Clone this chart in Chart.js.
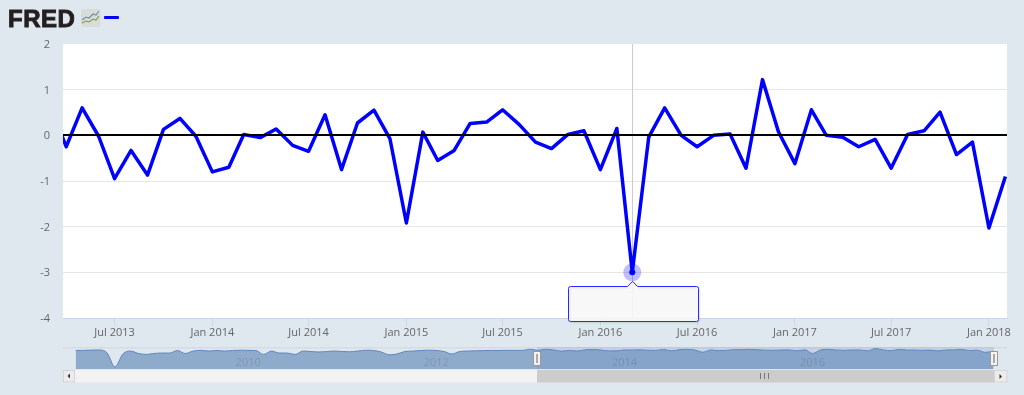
<!DOCTYPE html>
<html>
<head>
<meta charset="utf-8">
<title>FRED chart</title>
<script src="https://cdn.jsdelivr.net/npm/chart.js@4"></script>
<style>
html,body{margin:0;padding:0;width:1024px;height:395px;overflow:hidden;background:#dfe7ef;}
canvas{position:absolute;left:0;top:0;}
#logo{position:absolute;left:8px;top:5px;font:bold 24px/28px "Liberation Sans",Arial,sans-serif;color:#231f20;letter-spacing:.5px;-webkit-text-stroke:.9px #231f20;}
#icon{position:absolute;left:81px;top:9px;}
#key{position:absolute;left:104px;top:16px;width:15px;height:3px;background:#0000ff;border-radius:1px;}
</style>
</head>
<body>
<canvas id="main" width="1024" height="395"></canvas>
<canvas id="nav" width="1024" height="395"></canvas>
<div id="logo">FRED</div>
<svg id="icon" width="20" height="19" viewBox="0 0 20 19">
  <rect x="0" y="0" width="19.5" height="18" rx="2" fill="#d9dcd8"/>
  <polyline points="1,11 5,8 8,9 12,5 15,6 18,2" fill="none" stroke="#6f8aa8" stroke-width="1.1"/>
  <polyline points="1,14 5,12 8,13 12,10 15,11 18,7" fill="none" stroke="#74a04f" stroke-width="1.1"/>
</svg>
<div id="key"></div>
<script>
const months = ["2013-03","2013-04","2013-05","2013-06","2013-07","2013-08","2013-09","2013-10","2013-11","2013-12",
"2014-01","2014-02","2014-03","2014-04","2014-05","2014-06","2014-07","2014-08","2014-09","2014-10","2014-11","2014-12",
"2015-01","2015-02","2015-03","2015-04","2015-05","2015-06","2015-07","2015-08","2015-09","2015-10","2015-11","2015-12",
"2016-01","2016-02","2016-03","2016-04","2016-05","2016-06","2016-07","2016-08","2016-09","2016-10","2016-11","2016-12",
"2017-01","2017-02","2017-03","2017-04","2017-05","2017-06","2017-07","2017-08","2017-09","2017-10","2017-11","2017-12",
"2018-01","2018-02"];
const values = [0.7,-0.25,0.6,-0.02,-0.95,-0.33,-0.87,0.13,0.37,-0.02,
-0.8,-0.7,0.02,-0.05,0.14,-0.22,-0.35,0.45,-0.75,0.27,0.55,-0.07,
-1.92,0.07,-0.55,-0.33,0.26,0.29,0.56,0.24,-0.15,-0.29,0.02,0.1,
-0.75,0.15,-3.0,-0.04,0.6,0.0,-0.25,0.0,0.03,-0.72,1.22,0.08,
-0.62,0.56,0.0,-0.04,-0.25,-0.09,-0.72,0.02,0.1,0.51,-0.42,-0.15,
-2.03,-0.9];
const xTickMonths = ["2013-07","2014-01","2014-07","2015-01","2015-07","2016-01","2016-07","2017-01","2017-07","2018-01"];
const xTickLabels = ["Jul 2013","Jan 2014","Jul 2014","Jan 2015","Jul 2015","Jan 2016","Jul 2016","Jan 2017","Jul 2017","Jan 2018"];
const yTicks = [-4,-3,-2,-1,0,1,2];
const highlightMonth = "2016-03";

const navEarlyMonths = ["2008-05","2008-06","2008-07","2008-08","2008-09","2008-10","2008-11","2008-12",
"2009-01","2009-02","2009-03","2009-04","2009-05","2009-06","2009-07","2009-08","2009-09","2009-10","2009-11","2009-12",
"2010-01","2010-02","2010-03","2010-04","2010-05","2010-06","2010-07","2010-08","2010-09","2010-10","2010-11","2010-12",
"2011-01","2011-02","2011-03","2011-04","2011-05","2011-06","2011-07","2011-08","2011-09","2011-10","2011-11","2011-12",
"2012-01","2012-02","2012-03","2012-04","2012-05","2012-06","2012-07","2012-08","2012-09","2012-10","2012-11","2012-12",
"2013-01","2013-02"];
const navEarlyValues = [-0.4,-0.3,-0.1,0,-2.6,-14.5,-3.4,-0.9,-3,-3.8,-3,-2.6,-2.6,-0.4,-3,-0.9,-0.3,-0.9,-0.4,-0.9,
-0.4,-0.2,-0.3,-0.4,-3.8,-0.9,-2.6,-2.6,-3.8,-0.9,-1.3,-1.7,-1.3,-0.9,-1.3,-1.5,-0.9,-0.2,-0.4,-1.7,
-4.1,-3.4,-1.3,-0.9,-0.4,-0.2,-0.4,-1.3,-3.4,-1.3,-0.9,-0.7,-0.5,-0.4,-0.4,-0.3,-0.3,-0.3];
const navYearTicks = ["2010-01","2012-01","2014-01","2016-01"];
const navYearLabels = ["2010","2012","2014","2016"];

const toTime = s => { const p = s.split("-"); return Date.UTC(+p[0], +p[1]-1, p[2] ? +p[2] : 1); };
const windowStart = toTime("2013-03-26");
const windowEnd = toTime("2018-02-04");
const FONT = '"Open Sans"';
const xTickTimes = xTickMonths.map(toTime);

const plotBg = { id:"plotBg", beforeDraw(c){ const a=c.chartArea,x=c.ctx; x.save(); x.fillStyle="#fff"; x.fillRect(a.left,a.top,a.right-a.left,a.bottom-a.top); x.restore(); } };

const crosshair = { id:"crosshair", beforeDatasetsDraw(c){
  const a=c.chartArea,x=c.ctx,px=Math.round(c.scales.x.getPixelForValue(toTime(highlightMonth)))+.5;
  x.save(); x.strokeStyle="#cccccc"; x.lineWidth=1; x.beginPath(); x.moveTo(px,a.top); x.lineTo(px,a.bottom); x.stroke(); x.restore();
}};

const overlay = { id:"overlay", afterDatasetsDraw(c){
  const a=c.chartArea,x=c.ctx,y0=Math.round(c.scales.y.getPixelForValue(0));
  x.save();
  x.strokeStyle="#000"; x.lineWidth=2; x.beginPath(); x.moveTo(a.left,y0); x.lineTo(a.right,y0); x.stroke();
  const el=c.getDatasetMeta(0).data[months.indexOf(highlightMonth)];
  x.fillStyle="rgba(0,0,255,0.25)"; x.beginPath(); x.arc(el.x,el.y,9,0,Math.PI*2); x.fill();
  x.fillStyle="#0000ff"; x.beginPath(); x.arc(el.x,el.y,3,0,Math.PI*2); x.fill();
  // empty tooltip box, hanging from the highlighted point
  const ax=Math.round(el.x)+.5, apex=el.y+9, top=Math.round(apex+5)+.5, bot=top+35, l=ax-64, r=ax+66, rad=2;
  x.shadowColor="rgba(0,0,0,0.10)"; x.shadowBlur=2; x.shadowOffsetX=1; x.shadowOffsetY=1;
  x.fillStyle="rgba(250,250,250,0.9)"; x.strokeStyle="#2a2aff"; x.lineWidth=1;
  x.beginPath(); x.moveTo(l+rad,top); x.lineTo(ax-5,top); x.lineTo(ax,apex); x.lineTo(ax+5,top); x.lineTo(r-rad,top);
  x.arcTo(r,top,r,top+rad,rad); x.lineTo(r,bot-rad); x.arcTo(r,bot,r-rad,bot,rad); x.lineTo(l+rad,bot);
  x.arcTo(l,bot,l,bot-rad,rad); x.lineTo(l,top+rad); x.arcTo(l,top,l+rad,top,rad); x.closePath(); x.fill(); x.stroke();
  x.restore();
}};

new Chart(document.getElementById("main"),{
  type:"line",
  data:{ datasets:[{ data:months.map((m,i)=>({x:toTime(m),y:values[i]})), borderColor:"#0000ff", borderWidth:3.5, pointRadius:0, tension:0, borderJoinStyle:"round", fill:false }] },
  options:{
    responsive:false, animation:false, events:[],
    layout:{padding:{left:0,right:17,top:44,bottom:0}},
    plugins:{legend:{display:false},tooltip:{enabled:false}},
    scales:{
      x:{ type:"linear", min:windowStart, max:windowEnd,
        afterBuildTicks(s){ s.ticks=xTickTimes.map(v=>({value:v})); },
        afterFit(s){ s.height=77; },
        grid:{drawOnChartArea:false,drawTicks:true,tickLength:8,tickColor:"#ccd6eb",lineWidth:1},
        border:{display:true,color:"#ccd6eb",width:1},
        ticks:{autoSkip:false,maxRotation:0,minRotation:0,padding:0,color:"#666666",font:{family:FONT,size:11},
          callback:v=>xTickLabels[xTickTimes.indexOf(v)]}
      },
      y:{ min:-4,max:2,
        afterBuildTicks(s){ s.ticks=yTicks.map(v=>({value:v})); },
        afterFit(s){ s.width=63; },
        grid:{drawTicks:false,tickLength:0,lineWidth:1,color:c=>c.tick.value===2||c.tick.value===-4?"rgba(0,0,0,0)":"#e6e6e6"},
        border:{display:false},
        ticks:{padding:13,labelOffset:1,color:"#666666",font:{family:FONT,size:11}}
      }
    }
  },
  plugins:[plotBg,crosshair,overlay]
});

const navChrome = { id:"navChrome",
  beforeDatasetsDraw(c){
    const x=c.ctx; x.save(); x.fillStyle="#d6dce3"; x.fillRect(63,347,944,1.5); x.restore();
  },
  afterDatasetsDraw(c){
    const a=c.chartArea,x=c.ctx,sx=c.scales.x, selL=Math.round(sx.getPixelForValue(windowStart)), selR=Math.round(a.right);
    x.save();
    // selected range
    x.fillStyle="rgba(102,133,194,0.2)"; x.fillRect(selL,a.top,selR-selL,a.bottom-a.top);
    // year labels
    x.fillStyle="rgba(70,70,70,0.2)"; x.font='11px '+FONT; x.textAlign="left"; x.textBaseline="middle";
    navYearTicks.forEach((m,i)=>x.fillText(navYearLabels[i],sx.getPixelForValue(toTime(m))+3,363));
    // scrollbar
    const sy=370,sh=12.5;
    x.fillStyle="#f2f2f2"; x.fillRect(75,sy,selL-75,sh);
    x.fillStyle="#cccccc"; x.fillRect(selL,sy,selR-selL,sh);
    x.fillStyle="#ececec"; x.strokeStyle="#d5d5d5"; x.lineWidth=1;
    x.fillRect(63,sy,12,sh); x.strokeRect(63.5,sy+.5,11,sh-1);
    x.fillRect(selR,sy,1007-selR,sh); x.strokeRect(selR+.5,sy+.5,1006.5-selR,sh-1);
    x.fillStyle="#333";
    x.beginPath(); x.moveTo(67.5,sy+6); x.lineTo(70,sy+3.5); x.lineTo(70,sy+8.5); x.closePath(); x.fill();
    x.beginPath(); x.moveTo(1002,sy+6.5); x.lineTo(999.5,sy+4); x.lineTo(999.5,sy+9); x.closePath(); x.fill();
    const gx=Math.round((selL+selR)/2);
    x.fillStyle="#777"; [-3,-1,1].forEach(d=>x.fillRect(gx+d*2,sy+3,1,6));
    // handles
    [selL,selR].forEach(h=>{
      x.fillStyle="#f2f2f2"; x.strokeStyle="#999"; x.lineWidth=1;
      x.fillRect(h-3.5,351.5,7,14); x.strokeRect(h-3.5,351.5,7,14);
      x.fillStyle="#aaa"; x.fillRect(h-1,354,2,9);
    });
    x.restore();
  }
};

new Chart(document.getElementById("nav"),{
  type:"line",
  data:{ datasets:[{
    data:navEarlyMonths.concat(months).map((m,i)=>({x:toTime(m),y:navEarlyValues.concat(values)[i]})),
    borderColor:"#5f87bd", borderWidth:1, backgroundColor:"#8fabcb", fill:"start", pointRadius:0, cubicInterpolationMode:"monotone"
  }]},
  options:{
    responsive:false, animation:false, events:[],
    layout:{padding:{left:75.5,right:30,top:347,bottom:26}},
    plugins:{legend:{display:false},tooltip:{enabled:false}},
    scales:{
      x:{type:"linear",display:false,min:toTime(navEarlyMonths[0]),max:windowEnd},
      y:{display:false,min:-16.24,max:2.56}
    }
  },
  plugins:[navChrome]
});
</script>
</body>
</html>
